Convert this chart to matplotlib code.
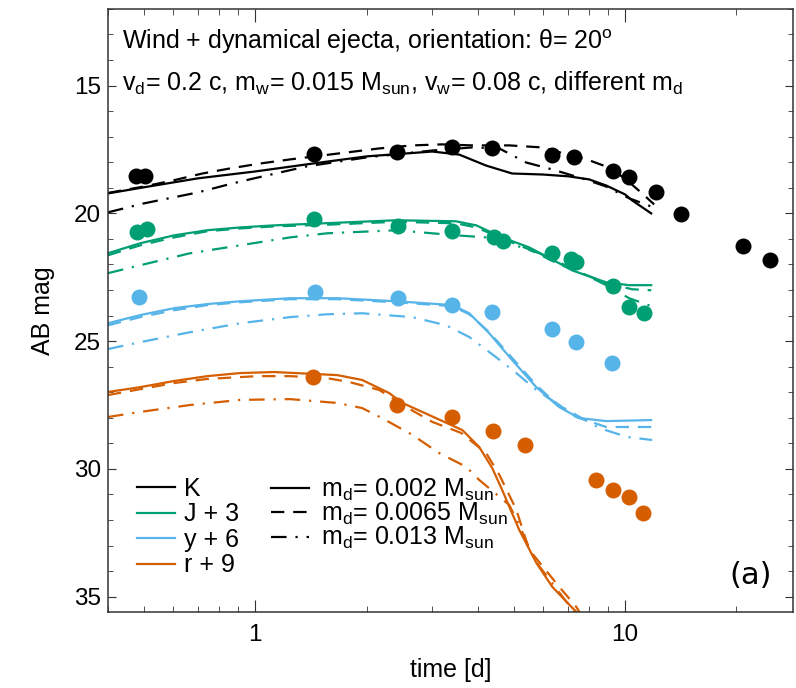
import numpy as np
import matplotlib.pyplot as plt
from matplotlib.lines import Line2D
from matplotlib.ticker import MultipleLocator, LogLocator, NullFormatter, FixedLocator, FixedFormatter

plt.rcParams['font.family'] = ['Liberation Sans', 'DejaVu Sans']
plt.rcParams['mathtext.default'] = 'regular'

# band colours and offsets
bands = ["K", "J", "y", "r"]
offsets = [0, 3, 6, 9]
colors = ["black", "#009E73", "#56B4E9", "#D55E00"]
band_labels = ["K", "J + 3", "y + 6", "r + 9"]

# observed photometry (days, AB mag without offset)
obs_t = {
    "K": [0.477, 0.504, 1.444, 2.42, 3.41, 4.37, 6.35, 7.28, 9.28, 10.25, 12.13, 14.17, 20.84, 24.66],
    "J": [0.480, 0.511, 1.444, 2.435, 3.41, 4.43, 4.68, 6.35, 7.14, 7.37, 9.28, 10.25, 11.26],
    "y": [0.486, 1.452, 2.435, 3.41, 4.37, 6.35, 7.37, 9.22],
    "r": [1.435, 2.42, 3.41, 4.40, 5.37, 8.35, 9.28, 10.25, 11.19],
}
obs_m = {
    "K": [18.52, 18.52, 17.66, 17.58, 17.42, 17.46, 17.70, 17.81, 18.36, 18.59, 19.18, 20.04, 21.29, 21.84],
    "J": [17.74, 17.63, 17.23, 17.51, 17.70, 17.94, 18.09, 18.56, 18.80, 18.91, 19.85, 20.67, 20.91],
    "y": [17.28, 17.09, 17.32, 17.59, 17.87, 18.53, 19.04, 19.86],
    "r": [17.41, 18.50, 18.97, 19.52, 20.06, 21.43, 21.82, 22.09, 22.72],
}

# model light curves, md = 0.002 / 0.0065 / 0.013 Msun
md_labels = [r"m$_d$= 0.002 M$_{sun}$", r"m$_d$= 0.0065 M$_{sun}$", r"m$_d$= 0.013 M$_{sun}$"]
md_styles = ["-", (0, (6, 4)), (0, (7, 4, 1, 4))]

mod_t = {
    "K": [[0.40, 0.50, 0.70, 1.0, 1.50, 2.0, 3.01, 3.56, 4.21, 4.95, 6.0, 7.02, 7.99, 8.89, 10.0, 10.44, 11.76],
          [0.40, 0.50, 0.60, 0.72, 0.856, 1.03, 1.24, 1.76, 2.16, 2.66, 3.20, 3.86, 4.86, 5.97, 6.84, 7.75, 9.17, 10.12, 11.12, 11.98],
          [0.40, 0.50, 0.70, 0.867, 1.0, 1.38, 2.0, 3.01, 3.86, 4.57, 5.40, 6.35, 7.65, 8.89, 10.25, 11.76]],
    "J": [[0.40, 0.489, 0.604, 0.742, 0.911, 1.125, 1.585, 2.405, 3.49, 3.96, 4.65, 5.50, 6.63, 7.19, 8.89, 10.25, 11.76],
          [0.40, 0.489, 0.604, 0.742, 0.911, 1.125, 1.585, 2.405, 3.49, 3.96, 4.65, 5.50, 6.63, 7.51, 8.89, 10.44, 11.76],
          [0.40, 0.489, 0.667, 0.911, 1.243, 1.565, 2.405, 3.49, 4.21, 4.86, 5.86, 7.19, 8.89, 10.25, 11.76]],
    "y": [[0.40, 0.489, 0.604, 0.742, 0.911, 1.243, 1.666, 2.405, 3.41, 3.79, 4.29, 4.95, 5.75, 6.63, 7.51, 8.89, 11.76],
          [0.40, 0.489, 0.604, 0.742, 0.911, 1.243, 1.666, 2.405, 3.41, 3.79, 4.29, 4.95, 5.75, 6.35, 7.37, 8.89, 11.76],
          [0.40, 0.489, 0.667, 0.911, 1.243, 1.565, 1.946, 2.657, 3.28, 3.79, 4.48, 5.08, 5.75, 6.76, 8.51, 10.12, 11.83]],
    "r": [[0.40, 0.489, 0.604, 0.742, 0.911, 1.125, 1.666, 1.946, 2.30, 2.50, 2.95, 3.63, 4.03, 4.37, 4.65, 5.17, 5.75, 6.35, 7.19, 7.75],
          [0.40, 0.489, 0.604, 0.742, 1.012, 1.243, 1.565, 1.795, 2.163, 2.56, 3.01, 3.60, 4.21, 4.57, 5.08, 5.50, 6.63, 7.37, 7.75],
          [0.40, 0.489, 0.667, 0.911, 1.243, 1.666, 1.946, 2.20, 2.66, 3.14, 3.72, 4.03, 4.86, 5.17, 5.68, 6.55, 7.28, 7.61]],
}
mod_m = {
    "K": [[19.22, 18.98, 18.63, 18.36, 18.01, 17.77, 17.58, 17.70, 18.13, 18.44, 18.48, 18.55, 18.67, 18.91, 19.26, 19.49, 20.0],
          [19.20, 18.95, 18.71, 18.44, 18.24, 18.05, 17.89, 17.62, 17.46, 17.34, 17.30, 17.34, 17.34, 17.42, 17.66, 17.85, 18.24, 18.71, 19.22, 19.65],
          [19.96, 19.61, 19.18, 18.83, 18.62, 18.16, 17.81, 17.54, 17.42, 17.46, 18.01, 18.28, 18.63, 18.95, 19.41, 19.73]],
    "J": [[18.56, 18.17, 17.86, 17.66, 17.55, 17.47, 17.38, 17.27, 17.31, 17.47, 17.94, 18.33, 18.95, 19.23, 19.70, 19.81, 19.81],
          [18.64, 18.25, 17.94, 17.70, 17.59, 17.51, 17.44, 17.33, 17.39, 17.55, 17.98, 18.41, 18.99, 19.30, 19.73, 19.97, 20.01],
          [19.34, 19.03, 18.56, 18.25, 17.94, 17.78, 17.66, 17.86, 17.94, 18.17, 18.56, 19.15, 19.81, 20.32, 20.63]],
    "y": [[18.30, 17.98, 17.71, 17.55, 17.44, 17.32, 17.32, 17.44, 17.59, 17.91, 18.69, 19.74, 20.80, 21.58, 22.01, 22.13, 22.09],
          [18.38, 18.06, 17.79, 17.59, 17.48, 17.36, 17.36, 17.48, 17.63, 17.95, 18.65, 19.66, 20.72, 21.30, 21.97, 22.36, 22.36],
          [19.31, 19.04, 18.65, 18.30, 18.06, 17.95, 17.91, 18.06, 18.38, 18.84, 19.63, 20.25, 20.91, 21.58, 22.40, 22.75, 22.87]],
    "r": [[17.99, 17.80, 17.56, 17.37, 17.25, 17.21, 17.33, 17.52, 18.03, 18.42, 18.89, 19.48, 20.14, 20.96, 21.82, 23.38, 24.67, 25.61, 26.43, 26.90],
          [18.11, 17.88, 17.64, 17.48, 17.37, 17.37, 17.45, 17.60, 17.91, 18.58, 19.16, 19.59, 20.38, 21.23, 22.60, 24.16, 25.61, 26.39, 26.90],
          [18.97, 18.77, 18.50, 18.30, 18.27, 18.42, 18.62, 19.01, 19.67, 20.38, 20.92, 21.43, 22.41, 23.19, 24.55, 25.73, 26.59, 26.90]],
}

fig = plt.figure(figsize=(7.96, 6.88), dpi=100)
ax = fig.add_axes([0.1357, 0.1105, 0.861, 0.8765])

for b, off, c in zip(bands, offsets, colors):
    for k in range(3):
        ax.plot(mod_t[b][k], np.array(mod_m[b][k]) + off, color=c, lw=1.6,
                linestyle=md_styles[k], zorder=2)
    ax.plot(obs_t[b], np.array(obs_m[b]) + off, "o", color=c, ms=11.5,
            markeredgewidth=0, zorder=3)

ax.set_xscale("log")
ax.set_xlim(0.4, 28.5)
ax.set_ylim(35.6, 12.0)

ax.xaxis.set_major_locator(FixedLocator([1, 10]))
ax.xaxis.set_major_formatter(FixedFormatter(["1", "10"]))
ax.xaxis.set_minor_locator(LogLocator(base=10, subs=np.arange(2, 10)))
ax.xaxis.set_minor_formatter(NullFormatter())
ax.yaxis.set_major_locator(MultipleLocator(5))
ax.yaxis.set_minor_locator(MultipleLocator(1))

ax.tick_params(which="both", direction="in", top=True, right=True, labelsize=17.5, color="#333333")
ax.tick_params(axis="x", which="major", length=9, pad=9)
ax.tick_params(axis="x", which="minor", length=4.5)
ax.tick_params(axis="y", which="major", length=6, pad=5)
ax.tick_params(axis="y", which="minor", length=3.5)
for s in ax.spines.values():
    s.set_linewidth(1.1)
    s.set_color("#333333")

ax.set_xlabel("time [d]", fontsize=18, labelpad=8)
ax.set_ylabel("AB mag", fontsize=18, labelpad=14)

ax.text(0.0204, 0.945, r"Wind + dynamical ejecta, orientation: θ= 20$^o$",
        transform=ax.transAxes, fontsize=18, va="center", ha="left")
ax.text(0.0204, 0.877, r"v$_d$= 0.2 c, m$_w$= 0.015 M$_{sun}$, v$_w$= 0.08 c, different m$_d$",
        transform=ax.transAxes, fontsize=18, va="center", ha="left")
ax.text(0.937, 0.06, "(a)", transform=ax.transAxes, fontsize=22, va="center", ha="center",
        family="DejaVu Sans")

# band legend (left) and ejecta-mass legend (right)
band_handles = [Line2D([], [], color=c, lw=1.6) for c in colors]
leg1 = ax.legend(band_handles, band_labels, loc="upper left", bbox_to_anchor=(0.043, 0.224),
                 frameon=False, fontsize=18, handlelength=1.5, handletextpad=0.35,
                 labelspacing=0.06, borderpad=0, borderaxespad=0)
ax.add_artist(leg1)
md_handles = [Line2D([], [], color="black", lw=1.6, linestyle=s) for s in md_styles]
ax.legend(md_handles, md_labels, loc="upper left", bbox_to_anchor=(0.238, 0.224),
          frameon=False, fontsize=18, handlelength=1.5, handletextpad=0.5,
          labelspacing=-0.08, borderpad=0, borderaxespad=0)

fig.savefig("out.png", dpi=100)
